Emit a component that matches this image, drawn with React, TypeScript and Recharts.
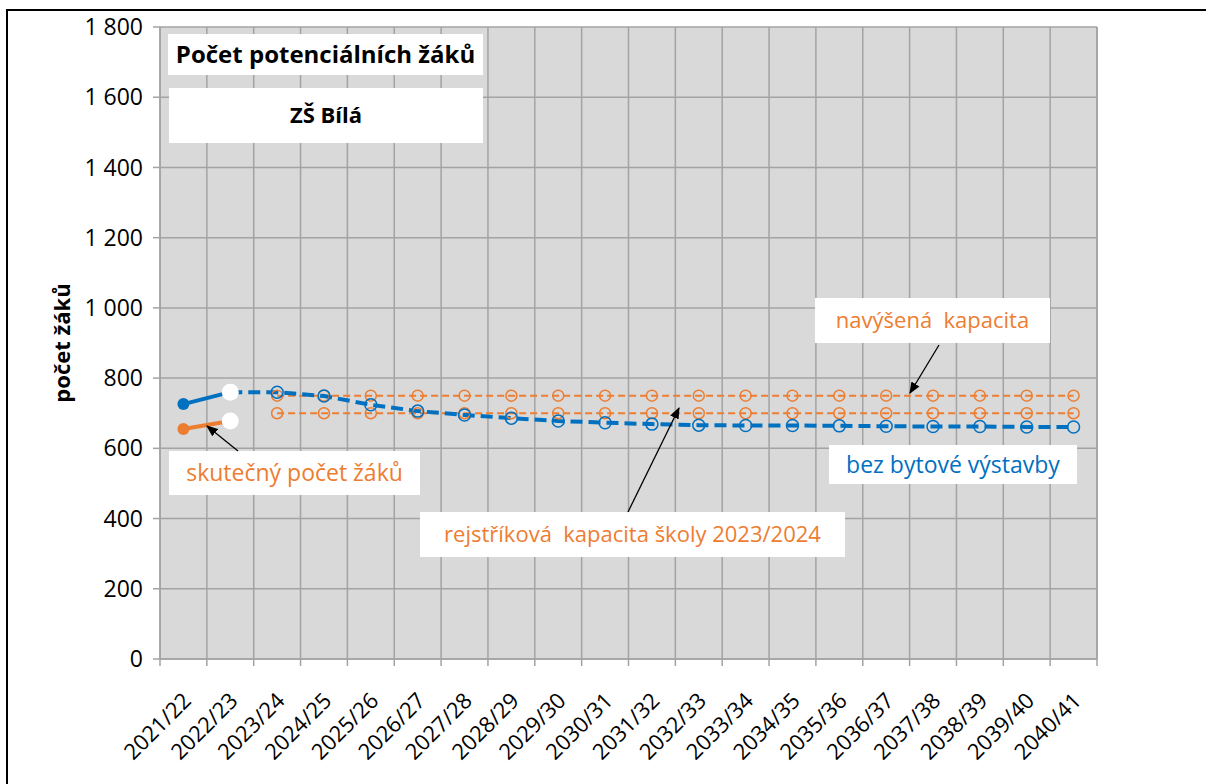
/**
 * Počet potenciálních žáků – ZŠ Bílá
 *
 * Line chart of expected pupils vs. school capacity
 */

import { LineChart, Line, XAxis, YAxis, CartesianGrid } from 'recharts';

// Categories (school years)
const CATS = [
  '2021/22', '2022/23', '2023/24', '2024/25', '2025/26',
  '2026/27', '2027/28', '2028/29', '2029/30', '2030/31',
  '2031/32', '2032/33', '2033/34', '2034/35', '2035/36',
  '2036/37', '2037/38', '2038/39', '2039/40', '2040/41',
];

// Potential pupils (actual years)
const POTENTIAL_ACTUAL = [726, 760];
// Actual pupil count
const PUPILS_ACTUAL = [655, 678];
// Projection without housing construction
const PROJECTION = [
  null, 760, 760, 749, 724, 706, 695, 686, 678, 673,
  669, 666, 665, 665, 664, 663, 662, 662, 661, 661,
];
// Registered capacity 2023/2024
const CAP_REGISTERED = [
  null, null, 700, 700, 700, 700, 700, 700, 700, 700,
  700, 700, 700, 700, 700, 700, 700, 700, 700, 700,
];
// Increased capacity
const CAP_RAISED = [
  null, null, 750, 750, 750, 750, 750, 750, 750, 750,
  750, 750, 750, 750, 750, 750, 750, 750, 750, 750,
];

const Y_TICKS = [0, 200, 400, 600, 800, 1000, 1200, 1400, 1600, 1800];

const BLUE = '#0070C0';
const ORANGE = '#ED7D31';
const GRID = '#A3A3A3';
const FONT = '"Open Sans", Lato, sans-serif';

const W = 1206;
const H = 784;
const LEFT_W = 160;
const RIGHT_W = 109;
const TOP = 27;
const X_AXIS_H = 125;
const PLOT_W = W - LEFT_W - RIGHT_W;
const STEP = PLOT_W / CATS.length;

const data = CATS.map((cat, i) => ({
  cat,
  potential: POTENTIAL_ACTUAL[i] ?? null,
  pupils: PUPILS_ACTUAL[i] ?? null,
  projection: PROJECTION[i],
  capRegistered: CAP_REGISTERED[i],
  capRaised: CAP_RAISED[i],
}));

const fmt = (v: number) => String(v).replace(/\B(?=(\d{3})+(?!\d))/g, ' ');

function CatTick(props: any) {
  const { x, y, payload, index } = props;
  const tx = x + 9;
  const ty = y + 43;
  return (
    <g>
      <line x1={x - STEP / 2} y1={y} x2={x - STEP / 2} y2={y + 7} stroke={GRID} strokeWidth={1.5} />
      {index === CATS.length - 1 && (
        <line x1={x + STEP / 2} y1={y} x2={x + STEP / 2} y2={y + 7} stroke={GRID} strokeWidth={1.5} />
      )}
      <text
        x={tx}
        y={ty}
        textAnchor="end"
        transform={`rotate(-45, ${tx}, ${ty})`}
        fontSize={22}
        fontFamily={FONT}
        fill="#000"
      >
        {payload.value}
      </text>
    </g>
  );
}

// first point: small filled dot, last point: big white dot
function makeSolidDot(color: string, lastIndex: number) {
  return (props: any) => {
    const { cx, cy, index } = props;
    if (cy == null) return <g key={index} />;
    if (index === lastIndex) {
      return <circle key={index} cx={cx} cy={cy} r={8.5} fill="#fff" stroke="none" />;
    }
    return <circle key={index} cx={cx} cy={cy} r={6} fill={color} stroke="none" />;
  };
}

function makeOpenDot(color: string, r: number, skip: number) {
  return (props: any) => {
    const { cx, cy, index } = props;
    if (cy == null || index === skip) return <g key={index} />;
    return <circle key={index} cx={cx} cy={cy} r={r} fill="none" stroke={color} strokeWidth={1.5} />;
  };
}

function Box({ x, y, w, h, text, color, size, bold }: any) {
  return (
    <g>
      <rect x={x} y={y} width={w} height={h} fill="#fff" />
      <text
        x={x + w / 2}
        y={y + h / 2}
        dy="0.36em"
        textAnchor="middle"
        fontSize={size}
        fontFamily={FONT}
        fontWeight={bold ? 'bold' : 'normal'}
        fill={color}
        style={{ whiteSpace: 'pre' }}
      >
        {text}
      </text>
    </g>
  );
}

export default function App() {
  return (
    <div style={{ position: 'absolute', left: 0, top: 0, width: W, height: H, background: '#fff', overflow: 'hidden' }}>
      <LineChart width={W} height={H} data={data} margin={{ top: TOP, right: 0, bottom: 0, left: 0 }}>
        <CartesianGrid
          yAxisId="left"
          stroke={GRID}
          strokeWidth={1.5}
          fill="#D9D9D9"
          fillOpacity={1}
          verticalCoordinatesGenerator={({ offset }: any) =>
            CATS.map((_, i) => offset.left + i * STEP).concat(offset.left + offset.width)
          }
        />
        <XAxis
          dataKey="cat"
          height={X_AXIS_H}
          interval={0}
          padding={{ left: STEP / 2, right: STEP / 2 }}
          tickLine={false}
          tickSize={0}
          tickMargin={0}
          axisLine={{ stroke: GRID, strokeWidth: 1.5 }}
          tick={<CatTick />}
        />
        <YAxis
          yAxisId="left"
          orientation="left"
          width={LEFT_W}
          domain={[0, 1800]}
          ticks={Y_TICKS}
          tickFormatter={fmt}
          tickSize={7}
          tickMargin={10}
          axisLine={{ stroke: GRID, strokeWidth: 1.5 }}
          tickLine={{ stroke: GRID, strokeWidth: 1.5 }}
          tick={{ fontSize: 23, fontFamily: FONT, fill: '#000' }}
          label={{
            value: 'počet žáků',
            angle: -90,
            position: 'insideLeft',
            offset: 62,
            style: { fontSize: 22, fontFamily: FONT, fontWeight: 'bold', fill: '#000', textAnchor: 'middle' },
          }}
        />
        <YAxis
          yAxisId="right"
          orientation="right"
          width={RIGHT_W}
          domain={[0, 1800]}
          ticks={Y_TICKS}
          tickFormatter={fmt}
          tickSize={7}
          tickMargin={16}
          axisLine={{ stroke: GRID, strokeWidth: 1.5 }}
          tickLine={{ stroke: GRID, strokeWidth: 1.5 }}
          tick={{ fontSize: 23, fontFamily: FONT, fill: '#000' }}
        />
        <Line
          yAxisId="left"
          dataKey="capRaised"
          stroke={ORANGE}
          strokeWidth={2}
          strokeDasharray="7 4"
          dot={makeOpenDot(ORANGE, 5.5, -1)}
          isAnimationActive={false}
        />
        <Line
          yAxisId="left"
          dataKey="capRegistered"
          stroke={ORANGE}
          strokeWidth={2}
          strokeDasharray="7 4"
          dot={makeOpenDot(ORANGE, 5.5, -1)}
          isAnimationActive={false}
        />
        <Line
          yAxisId="left"
          dataKey="projection"
          stroke={BLUE}
          strokeWidth={4}
          strokeDasharray="12 6"
          dot={makeOpenDot(BLUE, 6, 1)}
          isAnimationActive={false}
        />
        <Line
          yAxisId="left"
          dataKey="potential"
          stroke={BLUE}
          strokeWidth={4}
          dot={makeSolidDot(BLUE, POTENTIAL_ACTUAL.length - 1)}
          isAnimationActive={false}
        />
        <Line
          yAxisId="left"
          dataKey="pupils"
          stroke={ORANGE}
          strokeWidth={4}
          dot={makeSolidDot(ORANGE, PUPILS_ACTUAL.length - 1)}
          isAnimationActive={false}
        />
      </LineChart>

      {/* Annotations */}
      <svg width={W} height={H} style={{ position: 'absolute', left: 0, top: 0, pointerEvents: 'none' }}>
        <defs>
          <marker id="arr" viewBox="0 0 10 10" refX="9" refY="5" markerWidth="9" markerHeight="9" orient="auto">
            <path d="M0,1 L10,5 L0,9 z" fill="#000" />
          </marker>
        </defs>
        <Box x={168} y={34} w={315} h={41} text="Počet potenciálních žáků" color="#000" size={24} bold />
        <Box x={169} y={88} w={314} h={55} text="ZŠ Bílá" color="#000" size={22} bold />
        <Box x={815} y={298} w={235} h={45} text="navýšená  kapacita" color={ORANGE} size={22} />
        <Box x={829} y={445} w={248} h={39} text="bez bytové výstavby" color={BLUE} size={23} />
        <Box x={169} y={451} w={251} h={44} text="skutečný počet žáků" color={ORANGE} size={23} />
        <Box x={420} y={512} w={425} h={45} text="rejstříková  kapacita školy 2023/2024" color={ORANGE} size={22} />
        <line x1={238} y1={451} x2={207} y2={426} stroke="#000" strokeWidth={1.3} markerEnd="url(#arr)" />
        <line x1={628} y1={512} x2={679} y2={408} stroke="#000" strokeWidth={1.3} markerEnd="url(#arr)" />
        <line x1={939} y1={345} x2={910} y2={393} stroke="#000" strokeWidth={1.3} markerEnd="url(#arr)" />
      </svg>

      {/* Chart frame */}
      <div
        style={{
          position: 'absolute',
          left: 6,
          top: 9,
          width: W,
          height: H,
          borderLeft: '2px solid #000',
          borderTop: '2px solid #000',
          pointerEvents: 'none',
        }}
      />
    </div>
  );
}
